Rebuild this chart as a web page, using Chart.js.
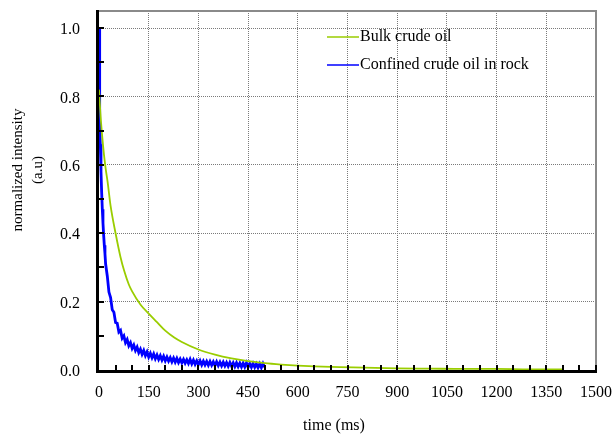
<!DOCTYPE html>
<html>
<head>
<meta charset="utf-8">
<script src="https://cdn.jsdelivr.net/npm/chart.js@4/dist/chart.umd.min.js"></script>
<style>
  html, body { margin: 0; padding: 0; background: #fff; }
  #wrap { width: 614px; height: 436px; position: relative; }
</style>
</head>
<body>
<div id="wrap"><canvas id="decayChart" width="614" height="436"></canvas></div>
<script>
const seriesNames = ["Bulk crude oil", "Confined crude oil in rock"];

// bulk crude oil (smooth decay)
const bulkTime = [0, 5, 10, 15, 20, 26, 35, 50, 65, 76, 90, 100, 126, 150, 175, 200, 227, 250, 300, 350,
    400, 450, 500, 550, 600, 700, 800, 900, 1000, 1100, 1200, 1300, 1400];
const bulkIntensity = [0.82, 0.74, 0.68, 0.63, 0.59, 0.55, 0.48, 0.40, 0.33, 0.29, 0.25, 0.23, 0.19, 0.165, 0.14, 0.115, 0.095, 0.082, 0.06, 0.045,
    0.034, 0.026, 0.02, 0.016, 0.013, 0.009, 0.007, 0.005, 0.004, 0.003, 0.003, 0.002, 0.002];

// confined crude oil in rock (noisy signal)
const rockTime = [0, 1, 2, 3, 4, 6, 8, 10, 12, 14, 16, 18,
    20, 25, 30, 35, 40, 45, 50, 55, 60, 65, 70, 75, 80, 85, 90, 95,
    100, 105, 110, 115, 120, 125, 130, 135, 140, 145, 150, 155, 160, 165, 170, 175, 180, 185, 190, 195,
    200, 205, 210, 215, 220, 225, 230, 235, 240, 245, 250, 255, 260, 265, 270, 275, 280, 285, 290, 295,
    300, 305, 310, 315, 320, 325, 330, 335, 340, 345, 350, 355, 360, 365, 370, 375, 380, 385, 390, 395,
    400, 405, 410, 415, 420, 425, 430, 435, 440, 445, 450, 455, 460, 465, 470, 475, 480, 485, 490, 495, 500];
const rockIntensity = [1.0, 0.90, 0.80, 0.72, 0.66, 0.58, 0.52, 0.47, 0.43, 0.395, 0.365, 0.34,
    0.31, 0.275, 0.228, 0.212, 0.176, 0.169, 0.139, 0.137, 0.111, 0.116, 0.093, 0.100, 0.080, 0.089, 0.071, 0.080,
    0.063, 0.073, 0.057, 0.067, 0.051, 0.061, 0.046, 0.057, 0.042, 0.053, 0.038, 0.049, 0.036, 0.047, 0.033, 0.044, 0.031, 0.042, 0.029, 0.040,
    0.027, 0.038, 0.026, 0.036, 0.024, 0.035, 0.023, 0.034, 0.022, 0.032, 0.021, 0.031, 0.020, 0.030, 0.019, 0.031, 0.018, 0.029, 0.017, 0.027,
    0.016, 0.027, 0.015, 0.026, 0.015, 0.025, 0.014, 0.025, 0.014, 0.024, 0.013, 0.024, 0.013, 0.023, 0.012, 0.023, 0.012, 0.022, 0.011, 0.022,
    0.011, 0.021, 0.010, 0.021, 0.010, 0.020, 0.009, 0.020, 0.009, 0.021, 0.008, 0.019, 0.008, 0.019, 0.008, 0.018, 0.007, 0.018, 0.007, 0.019, 0.008];

const xTicks = [0, 150, 300, 450, 600, 750, 900, 1050, 1200, 1350, 1500];
const yTicks = [0.0, 0.2, 0.4, 0.6, 0.8, 1.0];

const bulkColor = "#9ACD00";
const rockColor = "#0000FF";
const serif = "'Liberation Serif', 'Times New Roman', serif";

// plot box of the original figure
const plotBox = { left: 99, top: 11, right: 596, bottom: 370 };

// pin the plot box before the datasets are laid out
const fixedArea = {
    id: "fixedArea",
    afterLayout(chart) {
        const b = plotBox;
        chart.chartArea = { left: b.left, top: b.top, right: b.right, bottom: b.bottom,
            width: b.right - b.left, height: b.bottom - b.top };
        const xs = chart.scales.x;
        const ys = chart.scales.y;
        xs.left = b.left; xs.right = b.right; xs.width = b.right - b.left;
        xs.top = b.bottom; xs.bottom = b.bottom + xs.height;
        ys.top = b.top; ys.bottom = b.bottom; ys.height = b.bottom - b.top;
        ys.right = b.left; ys.left = b.left - ys.width;
        xs.configure();
        ys.configure();
    }
};

// axes, frame, minor ticks, legend and titles the way the original plot draws them
const decorations = {
    id: "decorations",
    afterDatasetsDraw(chart) {
        const ctx = chart.ctx;
        const xs = chart.scales.x;
        const ys = chart.scales.y;
        const left = xs.getPixelForValue(0);
        const right = xs.getPixelForValue(1500);
        const top = ys.getPixelForValue(1.05);
        const bottom = ys.getPixelForValue(0);
        ctx.save();

        // nothing to the right of the frame
        ctx.fillStyle = "#fff";
        ctx.fillRect(right + 1, 0, chart.width - right, bottom + 3);

        // gray frame top / right
        ctx.strokeStyle = "#8a8a8a";
        ctx.lineWidth = 2;
        ctx.beginPath();
        ctx.moveTo(left - 3, top);
        ctx.lineTo(right, top);
        ctx.lineTo(right, bottom);
        ctx.stroke();

        // black axes
        ctx.strokeStyle = "#000";
        ctx.lineWidth = 3;
        ctx.beginPath();
        ctx.moveTo(left - 1.5, top - 1);
        ctx.lineTo(left - 1.5, bottom + 1.5);
        ctx.lineTo(right + 1, bottom + 1.5);
        ctx.stroke();

        // inward minor ticks
        ctx.lineWidth = 2;
        ctx.beginPath();
        for (let v = 0.1; v < 1.05; v += 0.1) {
            const py = Math.round(ys.getPixelForValue(v));
            ctx.moveTo(left, py);
            ctx.lineTo(left + 5, py);
        }
        for (let t = 50; t <= 1500; t += 50) {
            const px = Math.round(xs.getPixelForValue(t));
            ctx.moveTo(px, bottom);
            ctx.lineTo(px, bottom - 5);
        }
        ctx.stroke();

        // legend inside the plot
        ctx.font = "16px " + serif;
        ctx.fillStyle = "#000";
        ctx.textBaseline = "middle";
        ctx.textAlign = "left";
        const rows = [[seriesNames[0], bulkColor, 37], [seriesNames[1], rockColor, 65]];
        rows.forEach(([name, color, y]) => {
            ctx.strokeStyle = color;
            ctx.lineWidth = 1.5;
            ctx.beginPath();
            ctx.moveTo(327, y);
            ctx.lineTo(359, y);
            ctx.stroke();
            ctx.fillText(name, 360, y);
        });

        // axis titles
        ctx.textAlign = "center";
        ctx.fillText("time (ms)", 334, 426);
        ctx.save();
        ctx.translate(18, 170);
        ctx.rotate(-Math.PI / 2);
        ctx.font = "15px " + serif;
        ctx.fillText("normalized intensity", 0, 0);
        ctx.fillText("(a.u)", 0, 20);
        ctx.restore();

        ctx.restore();
    }
};

const noPad = (s) => {
    s.paddingTop = 0;
    s.paddingBottom = 0;
    s.paddingLeft = 0;
    s.paddingRight = 0;
};

const data = {
    datasets: [
        {
            label: seriesNames[0],
            data: bulkTime.map((t, i) => ({ x: t, y: bulkIntensity[i] })),
            borderColor: bulkColor,
            backgroundColor: bulkColor,
            borderWidth: 1.8,
            pointRadius: 0,
            cubicInterpolationMode: "monotone",
        },
        {
            label: seriesNames[1],
            data: rockTime.map((t, i) => ({ x: t, y: rockIntensity[i] })),
            borderColor: rockColor,
            backgroundColor: rockColor,
            borderWidth: 2.8,
            pointRadius: 0,
            tension: 0,
        },
    ],
};

const config = {
    type: "line",
    data: data,
    options: {
        responsive: false,
        animation: false,
        layout: { padding: { left: 0, right: 18, top: 11, bottom: 0 } },
        plugins: {
            legend: { display: false },
            tooltip: { enabled: false },
        },
        scales: {
            x: {
                type: "linear",
                min: 0,
                max: 1500,
                afterFit: (s) => { s.height = 66; noPad(s); },
                afterBuildTicks: (s) => { s.ticks = xTicks.map((v) => ({ value: v })); },
                ticks: {
                    autoSkip: false,
                    maxRotation: 0,
                    padding: 13,
                    color: "#000",
                    font: { family: serif, size: 16 },
                    callback: (v) => String(v),
                },
                grid: {
                    drawTicks: false,
                    color: (c) => (c.tick && c.tick.value === 0 ? "transparent" : "#7a7a7a"),
                    lineWidth: 1,
                },
                border: { display: false, dash: [1, 1] },
            },
            y: {
                min: 0,
                max: 1.05,
                afterFit: (s) => { s.width = 99; noPad(s); },
                afterBuildTicks: (s) => { s.ticks = yTicks.map((v) => ({ value: v })); },
                ticks: {
                    padding: 19,
                    labelOffset: 2,
                    color: "#000",
                    font: { family: serif, size: 16 },
                    callback: (v) => Number(v).toFixed(1),
                },
                grid: {
                    drawTicks: false,
                    color: (c) => (c.tick && c.tick.value === 0 ? "transparent" : "#7a7a7a"),
                    lineWidth: 1,
                },
                border: { display: false, dash: [1, 1] },
            },
        },
    },
    plugins: [fixedArea, decorations],
};

new Chart(document.getElementById("decayChart"), config);
</script>
</body>
</html>
